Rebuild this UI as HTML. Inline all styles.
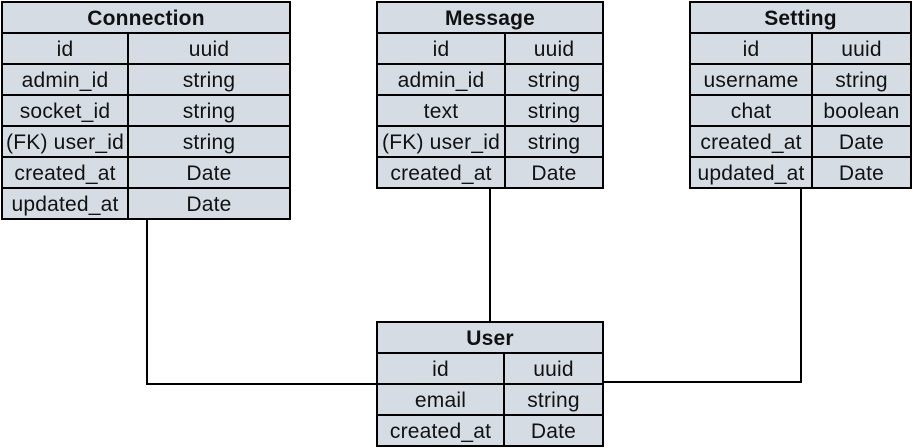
<!DOCTYPE html>
<html><head><style>
body{margin:0;width:913px;height:448px;background:#fff;position:relative;overflow:hidden;font-family:"Liberation Sans",sans-serif;}
table{position:absolute;border-collapse:collapse;background:#d6dce4;table-layout:fixed;}
td,th{border:2px solid #000;height:29px;padding:2px 0 0 0;box-sizing:border-box;text-align:center;font-size:21px;color:#111;white-space:nowrap;overflow:hidden;letter-spacing:0.2px;line-height:27px}
th{font-weight:bold;}
.l{position:absolute;background:#000;}
</style></head><body>
<div class="l" style="left:146px;top:220px;width:2px;height:165px"></div>
<div class="l" style="left:146px;top:383px;width:232px;height:2px"></div>
<div class="l" style="left:489px;top:187px;width:2px;height:135px"></div>
<div class="l" style="left:800px;top:187px;width:2px;height:196px"></div>
<div class="l" style="left:602px;top:381px;width:200px;height:2px"></div>

<table style="left:1px;top:1px;width:290px">
<col style="width:126px"><col>
<tr><th colspan="2">Connection</th></tr>
<tr><td>id</td><td>uuid</td></tr>
<tr><td>admin_id</td><td>string</td></tr>
<tr><td>socket_id</td><td>string</td></tr>
<tr><td>(FK) user_id</td><td>string</td></tr>
<tr><td>created_at</td><td>Date</td></tr>
<tr><td>updated_at</td><td>Date</td></tr>
</table>

<table style="left:376px;top:1px;width:228px">
<col style="width:128px"><col>
<tr><th colspan="2">Message</th></tr>
<tr><td>id</td><td>uuid</td></tr>
<tr><td>admin_id</td><td>string</td></tr>
<tr><td>text</td><td>string</td></tr>
<tr><td>(FK) user_id</td><td>string</td></tr>
<tr><td>created_at</td><td>Date</td></tr>
</table>

<table style="left:689px;top:1px;width:223px">
<col style="width:122px"><col>
<tr><th colspan="2">Setting</th></tr>
<tr><td>id</td><td>uuid</td></tr>
<tr><td>username</td><td>string</td></tr>
<tr><td>chat</td><td>boolean</td></tr>
<tr><td>created_at</td><td>Date</td></tr>
<tr><td>updated_at</td><td>Date</td></tr>
</table>

<table style="left:376px;top:321px;width:228px">
<col style="width:127px"><col>
<tr><th colspan="2">User</th></tr>
<tr><td>id</td><td>uuid</td></tr>
<tr><td>email</td><td>string</td></tr>
<tr><td>created_at</td><td>Date</td></tr>
</table>
</body></html>
